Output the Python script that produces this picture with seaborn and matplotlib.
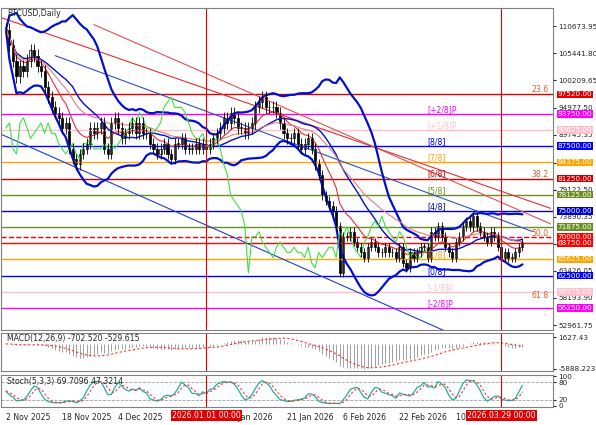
import numpy as np
import pandas as pd
import matplotlib
matplotlib.use("Agg")
import matplotlib.pyplot as plt
import seaborn as sns

# ─── Data (daily closes, thousands USD, from 2 Nov 2025) ─────────────────────
closes_k = [110, 107, 104, 101, 103, 102, 104, 106, 105,
            103, 102, 99, 97, 95, 94, 93, 91, 92, 87,
            85, 84, 86, 87, 88, 91, 90, 91, 92,
            87, 86, 92, 93, 91, 89, 90, 91, 92, 90, 92, 90, 90, 88, 87,
            86, 87, 88, 86, 85, 88, 88, 89, 87, 87, 87, 88, 87, 88, 87, 88,
            89, 90, 91, 93, 92, 94, 93, 91, 91, 90, 91, 92, 95, 96, 97,
            95, 95, 95, 94, 92, 90, 89, 89, 90, 88, 87, 88, 89, 87, 84, 82,
            78, 77, 76, 75, 72, 63, 70, 70, 71, 69, 68, 67, 66, 68, 69,
            68, 67, 67, 68, 67, 67, 66, 68, 65, 64, 67, 66, 67,
            68, 68, 66, 71, 70, 72, 70, 68, 67, 66, 69, 70, 72, 73, 72,
            74, 72, 71, 70, 69, 71, 70, 68, 66, 67, 66, 66, 67, 68, 69]

date_ticks = [0, 16, 32, 48, 64, 80, 96, 112, 128]
date_labels = ["2 Nov 2025", "18 Nov 2025", "4 Dec 2025", "20 Dec 2025", "5 Jan 2026",
               "21 Jan 2026", "6 Feb 2026", "22 Feb 2026", "10 Mar 2026"]
marker_days = [57, 141]
marker_labels = ["2026.01.01 00:00", "2026.03.29 00:00"]

level_prices = [97520, 93750, 90625, 87500, 84375, 81250, 78125, 75000,
                71875, 70000, 68750, 65625, 62500, 59375, 56250]
level_colors = ["#e00000", "#ff00ff", "#ffc0cb", "#0000ff", "#ffa500", "#cc0000",
                "#6b8e23", "#0000cc", "#6b8e23", "#ff0000", "#ff0000", "#ffa500",
                "#0000ff", "#ffc0cb", "#ff00ff"]
level_tags = ["", "[+2/8]P", "[+1/8]P", "[8/8]", "[7/8]", "[6/8]", "[5/8]", "[4/8]",
              "", "", "", "[1/8]", "[0/8]", "[-1/8]P", "[-2/8]P"]
fib_prices = [97520, 81250, 69800, 57800]
fib_tags = ["23.6", "38.2", "50.0", "61.8"]
axis_ticks = [52961.75, 58193.90, 63426.05, 68658.20, 73890.35, 79122.50,
              84354.65, 89745.35, 94977.50, 100209.65, 105441.80, 110673.95]

# trend lines: (day0, price0, day1, price1, colour)
trend_lines = [(-2, 112500, 155, 75500, "#e03030"),
               (25, 111000, 155, 72500, "#e05050"),
               (14, 105000, 150, 71000, "#3050c0"),
               (-2, 90000, 126, 51500, "#2040d0")]

# ─── Series ──────────────────────────────────────────────────────────────────
c = pd.Series(closes_k, dtype=float) * 1000
o = c.shift(1).fillna(c.iloc[0])
hi = np.maximum(o, c) * 1.012
lo = np.minimum(o, c) * 0.988
days = np.arange(len(c))
mid = c.rolling(20, min_periods=1).mean()
sd = c.rolling(20, min_periods=2).std().fillna(0)
ema1 = c.ewm(span=10).mean()
ema2 = c.ewm(span=30).mean()
macd = c.ewm(span=12).mean() - c.ewm(span=26).mean()
sig = macd.rolling(9, min_periods=1).mean()
ll = lo.rolling(5, min_periods=1).min()
hh = hi.rolling(5, min_periods=1).max()
k = ((c - ll) / (hh - ll) * 100).rolling(3, min_periods=1).mean()
d = k.rolling(3, min_periods=1).mean()

sns.set_style("white")
plt.rcParams["font.family"] = ["DejaVu Sans"]
FS = 5.6
YFS = 5.2
W, H = 596, 425
fig = plt.figure(figsize=(W / 100, H / 100), dpi=100)

def px_axes(x0, y0, x1, y1):
    return fig.add_axes([x0 / W, 1 - y1 / H, (x1 - x0) / W, (y1 - y0) / H])

xlim = (-1.4, 155.7)
ax = px_axes(1, 8, 553, 330)
ax_m = px_axes(1, 333, 553, 371)
ax_s = px_axes(1, 375, 553, 407)

# main panel
for p, col in zip(level_prices, level_colors):
    ax.axhline(p, color=col, lw=1, ls="--" if p == 70000 else "-")
for p, t in zip(fib_prices, fib_tags):
    ax.text(154.5, p, t, color="#e06030", fontsize=FS, ha="right", va="bottom")
for p, t, col in zip(level_prices, level_tags, level_colors):
    if t:
        ax.text(120, p, t, color=col, fontsize=FS, va="bottom")
for d0, p0, d1, p1, col in trend_lines:
    ax.plot([d0, d1], [p0, p1], color=col, lw=0.8)
sns.lineplot(x=days, y=(mid + 2 * sd).values, ax=ax, color="#0010d0", lw=1.6)
sns.lineplot(x=days, y=(mid - 2 * sd).values, ax=ax, color="#0010d0", lw=1.6)
sns.lineplot(x=days, y=mid.values, ax=ax, color="#0010d0", lw=1)
sns.lineplot(x=days, y=ema1.values, ax=ax, color="#e03030", lw=0.8)
sns.lineplot(x=days, y=ema2.values, ax=ax, color="#e08080", lw=0.8)
sns.lineplot(x=days[:-26], y=c.values[26:], ax=ax, color="#40e040", lw=0.8)
ax.vlines(days, lo, hi, color="black", lw=0.6)
ax.bar(days, (c - o).abs().clip(lower=150), bottom=np.minimum(o, c), width=0.6,
       color=np.where(c >= o, "white", "black"), edgecolor="black", lw=0.5)
ax.set_ylim(52000, 114200)
ax.set_yticks(axis_ticks)
ax.set_yticklabels([f"{v:.2f}" for v in axis_ticks])
ax.text(0.5, 113200, "BTCUSD,Daily", fontsize=FS, va="center")
for p, col in zip(level_prices, level_colors):
    ax.text(1.008, p, f"{p:.2f}", transform=ax.get_yaxis_transform(), fontsize=YFS,
            color="white", va="center", ha="left",
            bbox=dict(boxstyle="square,pad=0.1", fc=col, ec="none"))

# MACD
ax_m.vlines(days, 0, macd, color="#a0a0a0", lw=0.7)
sns.lineplot(x=days, y=sig.values, ax=ax_m, color="#ff3030", lw=0.8, ls=(0, (2, 2)))
ax_m.set_ylim(macd.min() * 1.1, macd.max() * 1.6)
ax_m.set_yticks([macd.max(), macd.min()])
ax_m.set_yticklabels([f"{macd.max():.2f}", f"{macd.min():.3f}"])
ax_m.text(0.3, macd.max() * 1.45, f"MACD(12,26,9) {macd.iloc[-1]:.3f} {sig.iloc[-1]:.3f}",
          fontsize=FS, va="top")

# Stochastic
for lv in (20, 80):
    ax_s.axhline(lv, color="#a0a0a0", lw=0.6, ls="--")
sns.lineplot(x=days, y=k.values, ax=ax_s, color="#20b0a0", lw=0.9)
sns.lineplot(x=days, y=d.values, ax=ax_s, color="#ff3030", lw=0.8, ls=(0, (2, 2)))
ax_s.set_ylim(-5, 105)
ax_s.set_yticks([0, 20, 80, 100])
ax_s.text(0.3, 97, f"Stoch(5,3,3) {k.iloc[-1]:.4f} {d.iloc[-1]:.4f}", fontsize=FS, va="top")

for a in (ax, ax_m, ax_s):
    a.set_xlim(*xlim)
    a.yaxis.tick_right()
    a.tick_params(axis="y", labelsize=YFS, length=2, pad=2)
    a.tick_params(axis="x", labelsize=FS, length=2, pad=2)
    for s in a.spines.values():
        s.set_color("#808080")
    for md in marker_days:
        a.axvline(md, color="#e00000", lw=0.8)
    if a is not ax_s:
        a.set_xticks([])
ax_s.set_xticks(date_ticks)
ax_s.set_xticklabels(date_labels, ha="left")
for md, ml in zip(marker_days, marker_labels):
    ax_s.text(md, -0.12, ml, transform=ax_s.get_xaxis_transform(), fontsize=FS,
              color="white", ha="center", va="top",
              bbox=dict(boxstyle="square,pad=0.15", fc="#e00000", ec="none"))

fig.savefig("out.png", dpi=100)
